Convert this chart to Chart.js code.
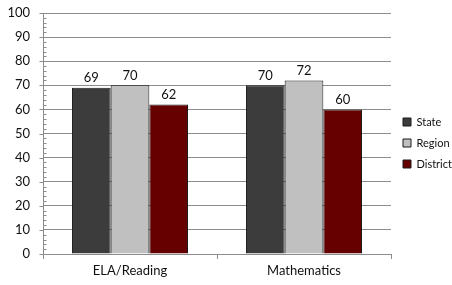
<!DOCTYPE html>
<html>
<head>
<meta charset="utf-8">
<script src="https://cdn.jsdelivr.net/npm/chart.js@4"></script>
<style>
  html, body { margin: 0; padding: 0; background: #fff; }
  #wrap { width: 452px; height: 285px; }
</style>
</head>
<body>
<div id="wrap"><canvas id="chart" width="452" height="285"></canvas></div>
<script>
const categories = ['ELA/Reading', 'Mathematics'];
const stateValues = [69, 70];
const regionValues = [70, 72];
const districtValues = [62, 60];
const yTicks = [0, 10, 20, 30, 40, 50, 60, 70, 80, 90, 100];

const fontFamily = "Lato, 'Open Sans', sans-serif";
const gridColour = '#8c8c8c';
const textColour = '#111111';

// value labels above each bar
const valueLabels = {
    id: 'valueLabels',
    afterDatasetsDraw(chart) {
        let ctx = chart.ctx;
        ctx.save();
        ctx.font = '13px ' + fontFamily;
        ctx.fillStyle = textColour;
        ctx.textAlign = 'center';
        ctx.textBaseline = 'bottom';
        chart.data.datasets.forEach((ds, i) => {
            chart.getDatasetMeta(i).data.forEach((bar, j) => {
                ctx.fillText(ds.data[j], bar.x, bar.y - 3);
            });
        });
        ctx.restore();
    },
};

// Excel style tick marks on the value axis
const axisTicks = {
    id: 'axisTicks',
    afterDraw(chart) {
        let ctx = chart.ctx;
        let y = chart.scales.y;
        let x = y.right + 0.5;
        ctx.save();
        ctx.strokeStyle = gridColour;
        ctx.lineWidth = 1;
        ctx.beginPath();
        for (let v = 0; v <= 100; v += 2) {
            let py = Math.round(y.getPixelForValue(v)) + 0.5;
            if (v % 10 === 0) {
                ctx.moveTo(x - 4, py);
                ctx.lineTo(x, py);
            } else {
                ctx.moveTo(x, py);
                ctx.lineTo(x + 3, py);
            }
        }
        ctx.stroke();
        ctx.restore();
    },
};

// keep the legend column narrow and nudge it like the original
const legendFit = {
    id: 'legendFit',
    beforeInit(chart) {
        let legend = chart.legend;
        let origFit = legend.fit;
        legend.fit = function () {
            origFit.call(this);
            this.width = 61;
        };
    },
    afterLayout(chart) {
        let legend = chart.legend;
        legend.left += 2;
        legend.right += 2;
        legend.top -= 6;
        legend.bottom -= 6;
    },
};

let chartConfig = {
    type: 'bar',
    data: {
        labels: categories,
        datasets: [
            {
                label: 'State',
                data: stateValues,
                backgroundColor: '#3c3c3c',
                borderColor: '#1a1a1a',
                borderWidth: 1,
            },
            {
                label: 'Region',
                data: regionValues,
                backgroundColor: '#c0c0c0',
                borderColor: '#1a1a1a',
                borderWidth: 1,
            },
            {
                label: 'District',
                data: districtValues,
                backgroundColor: '#660000',
                borderColor: '#1a1a1a',
                borderWidth: 1,
            },
        ],
    },
    options: {
        responsive: false,
        animation: false,
        devicePixelRatio: 1,
        layout: { padding: { top: 13, right: 0, left: 0, bottom: 0 } },
        datasets: { bar: { barPercentage: 1, categoryPercentage: 0.667 } },
        plugins: {
            tooltip: { enabled: false },
            legend: {
                position: 'right',
                align: 'center',
                labels: {
                    boxWidth: 8,
                    boxHeight: 8,
                    padding: 10,
                    color: textColour,
                    font: { family: fontFamily, size: 11 },
                },
            },
        },
        scales: {
            x: {
                grid: {
                    display: true,
                    drawOnChartArea: false,
                    offset: true,
                    tickLength: 5,
                    color: gridColour,
                },
                border: { color: gridColour },
                ticks: {
                    color: textColour,
                    padding: 4,
                    font: { family: fontFamily, size: 13 },
                },
                afterFit: (scale) => { scale.height = 31; },
            },
            y: {
                min: 0,
                max: 100,
                afterBuildTicks: (scale) => { scale.ticks = yTicks.map((v) => ({ value: v })); },
                grid: { color: gridColour, drawTicks: false },
                border: { color: gridColour },
                ticks: {
                    color: textColour,
                    padding: 13,
                    font: { family: fontFamily, size: 13 },
                },
                afterFit: (scale) => {
                    scale.width = 43;
                    scale.paddingTop = 0;
                    scale.paddingBottom = 0;
                },
            },
        },
    },
    plugins: [valueLabels, axisTicks, legendFit],
};

let chart = new Chart(document.getElementById('chart').getContext('2d'), chartConfig);
</script>
</body>
</html>
